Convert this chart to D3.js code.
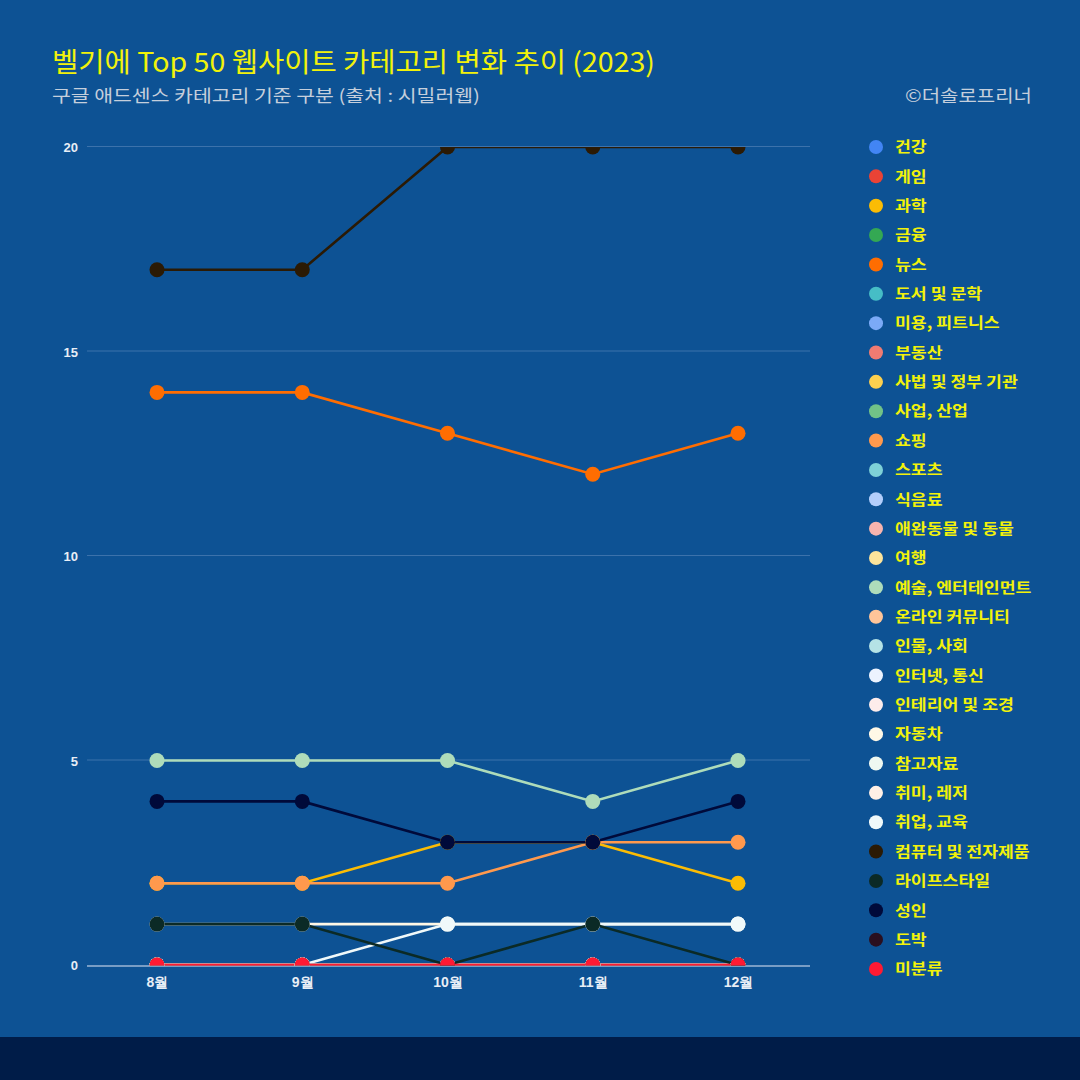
<!DOCTYPE html>
<html><head><meta charset="utf-8">
<script src="https://cdn.jsdelivr.net/npm/d3@7"></script>
<style>
html,body{margin:0;padding:0;background:#0d5294;}
svg{display:block;font-family:"Noto Sans CJK KR","Noto Sans",sans-serif;}
</style></head>
<body><svg id="c" width="1080" height="1080"></svg>
<script>
const months = ["8월","9월","10월","11월","12월"];
const categories = ["건강","게임","과학","금융","뉴스","도서 및 문학","미용, 피트니스","부동산","사법 및 정부 기관","사업, 산업","쇼핑","스포츠","식음료","애완동물 및 동물","여행","예술, 엔터테인먼트","온라인 커뮤니티","인물, 사회","인터넷, 통신","인테리어 및 조경","자동차","참고자료","취미, 레저","취업, 교육","컴퓨터 및 전자제품","라이프스타일","성인","도박","미분류"];
const colors = ["#4285f4","#ea4335","#fbbc04","#34a853","#ff6d01","#46bdc6","#7baaf7","#f07b72","#fcd04f","#71c287","#ff994d","#7ed1d7","#b3cefb","#f7b4ae","#fde49b","#aedcba","#ffc599","#b5e3e6","#ecf3fe","#fdeceb","#fff8e6","#eef8f1","#fff0e6","#f0f9fa","#2b1a04","#0b2a26","#000a3a","#2a0f1f","#ff1a33"];
// values per category, months 8~12
const v_건강 = [0,0,0,0,0];
const v_게임 = [0,0,0,0,0];
const v_과학 = [2,2,3,3,2];
const v_금융 = [0,0,0,0,0];
const v_뉴스 = [14,14,13,12,13];
const v_도서 = [0,0,0,0,0];
const v_미용 = [0,0,0,0,0];
const v_부동산 = [0,0,0,0,0];
const v_사법 = [0,0,0,0,0];
const v_사업 = [0,0,0,0,0];
const v_쇼핑 = [2,2,2,3,3];
const v_스포츠 = [0,0,0,0,0];
const v_식음료 = [0,0,0,0,0];
const v_애완 = [0,0,0,0,0];
const v_여행 = [0,0,0,0,0];
const v_예술 = [5,5,5,4,5];
const v_온라인 = [0,0,0,0,0];
const v_인물 = [0,0,0,0,0];
const v_인터넷 = [0,0,0,0,0];
const v_인테리어 = [0,0,0,0,0];
const v_자동차 = [1,1,1,1,1];
const v_참고 = [0,0,0,0,0];
const v_취미 = [0,0,0,0,0];
const v_취업 = [0,0,1,1,1];
const v_컴퓨터 = [17,17,20,20,20];
const v_라이프 = [1,1,0,1,0];
const v_성인 = [4,4,3,3,4];
const v_도박 = [0,0,0,0,0];
const v_미분류 = [0,0,0,0,0];
const values = [v_건강,v_게임,v_과학,v_금융,v_뉴스,v_도서,v_미용,v_부동산,v_사법,v_사업,v_쇼핑,v_스포츠,v_식음료,v_애완,v_여행,v_예술,v_온라인,v_인물,v_인터넷,v_인테리어,v_자동차,v_참고,v_취미,v_취업,v_컴퓨터,v_라이프,v_성인,v_도박,v_미분류];
const yTicks = [0,5,10,15,20];

const svg = d3.select("#c");
svg.append("rect").attr("width",1080).attr("height",1080).attr("fill","#0d5294");
svg.append("rect").attr("y",1037).attr("width",1080).attr("height",43).attr("fill","#001c48");

svg.append("text").attr("x",52).attr("y",72).attr("fill","#f2f20a").attr("font-size",27)
  .attr("textLength",603).attr("lengthAdjust","spacingAndGlyphs")
  .text("벨기에 Top 50 웹사이트 카테고리 변화 추이 (2023)");
svg.append("text").attr("x",52).attr("y",102).attr("fill","#c5cfdc").attr("font-size",17)
  .attr("textLength",428).attr("lengthAdjust","spacingAndGlyphs")
  .text("구글 애드센스 카테고리 기준 구분 (출처 : 시밀러웹)");
svg.append("text").attr("x",905).attr("y",102).attr("fill","#c5cfdc").attr("font-size",17)
  .attr("textLength",127).attr("lengthAdjust","spacingAndGlyphs")
  .text("©더솔로프리너");

const x = d3.scalePoint().domain(months).range([157,738]);
const y = d3.scaleLinear().domain([0,20]).range([965,147]);

// gridlines beneath
const g = svg.append("g");
g.selectAll("line.grid").data(yTicks.filter(t=>t>0)).join("line")
  .attr("x1",87).attr("x2",810).attr("y1",d=>y(d)-0.5).attr("y2",d=>y(d)-0.5)
  .attr("stroke","#3c72ab").attr("stroke-width",1);
g.append("line").attr("x1",87).attr("x2",810).attr("y1",y(0)+1).attr("y2",y(0)+1).attr("stroke","#9db7d6").attr("stroke-width",1.5);

svg.append("defs").append("clipPath").attr("id","plot").append("rect")
  .attr("x",0).attr("y",y(20)).attr("width",840).attr("height",y(0)-y(20)+0.5);

const lg = svg.append("g").attr("clip-path","url(#plot)");
const series = categories.map((c,i)=>({name:c,color:colors[i],vals:values[i]}));
const line = d3.line().x((d,i)=>x(months[i])).y(d=>y(d));
series.forEach(s=>{
  lg.append("path").attr("d",line(s.vals)).attr("fill","none").attr("stroke",s.color).attr("stroke-width",2.6);
});
series.forEach(s=>{
  lg.selectAll(null).data(s.vals).join("circle")
    .attr("cx",(d,i)=>x(months[i])).attr("cy",d=>y(d)).attr("r",7.5).attr("fill",s.color);
});

const yAxis = d3.axisLeft(y).tickValues(yTicks).tickSize(0).tickPadding(0);
const ya = svg.append("g").attr("transform","translate(78,0)").call(yAxis);
ya.select(".domain").remove();
ya.selectAll("text").attr("fill","#e8eef6").attr("font-size",13).attr("font-weight","bold").attr("dy","0.35em").attr("font-family","Arial, 'Liberation Sans', sans-serif");

const xAxis = d3.axisBottom(x).tickSize(0).tickPadding(0);
const xa = svg.append("g").attr("transform",`translate(0,${y(0)+12})`).call(xAxis);
xa.select(".domain").remove();
xa.selectAll("text").attr("fill","#e8eef6").attr("font-size",14).attr("font-weight","bold").attr("dy","0.7em");

const leg = svg.append("g");
const ly = d3.scaleLinear().domain([0,categories.length-1]).range([147,969]);
series.forEach((s,i)=>{
  leg.append("circle").attr("cx",876).attr("cy",ly(i)).attr("r",7).attr("fill",s.color);
  leg.append("text").attr("transform",`translate(895,${ly(i)}) scale(1.15,1)`).attr("dy","0.35em").attr("fill","#f2f20a")
    .attr("font-size",15).attr("font-weight","bold").text(s.name);
});
</script></body></html>
